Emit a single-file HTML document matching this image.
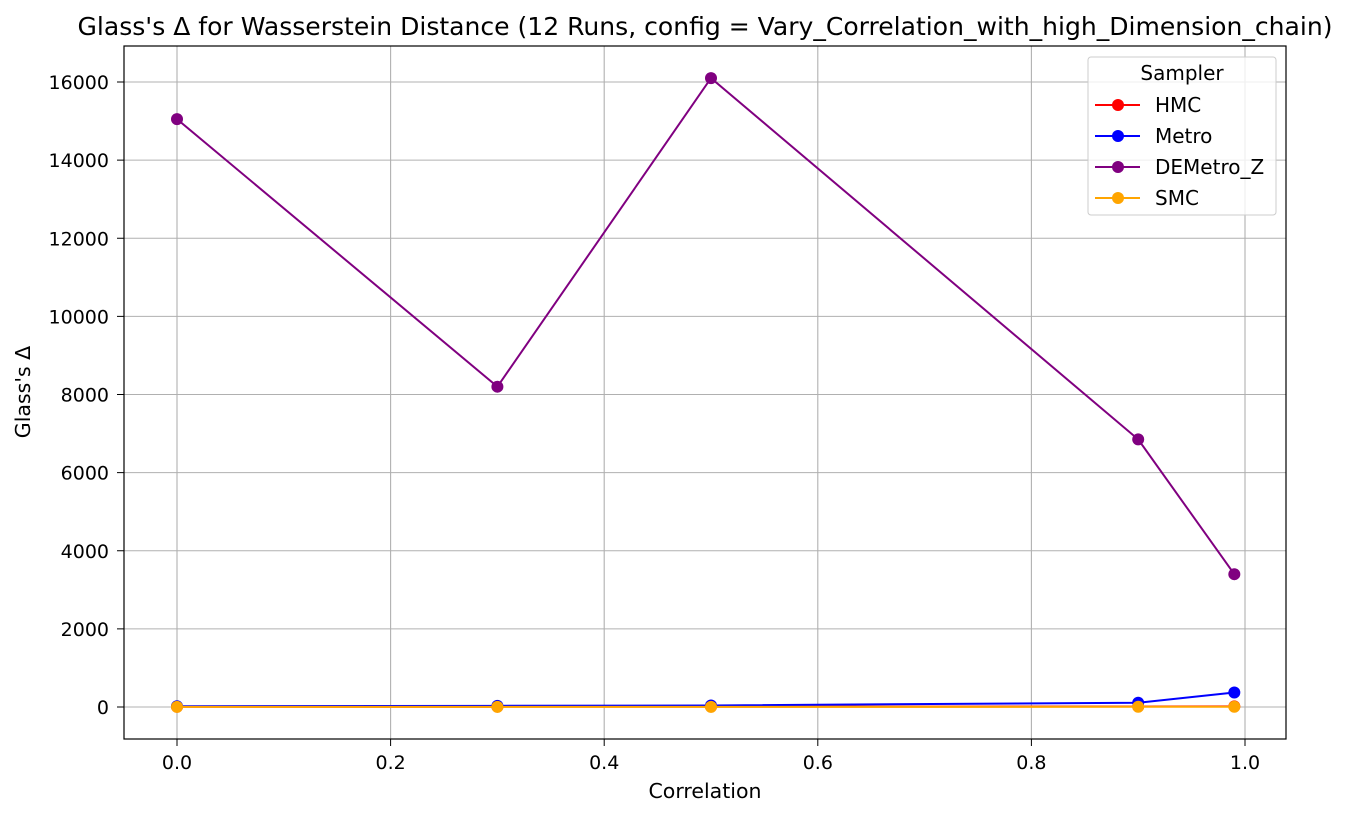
<!DOCTYPE html>
<html><head><meta charset="utf-8"><style>
body{margin:0;background:#fff;font-family:"Liberation Sans","DejaVu Sans",sans-serif;}
</style></head><body>
<svg width="1348" height="817" xmlns="http://www.w3.org/2000/svg" font-family="DejaVu Sans, Liberation Sans, sans-serif">
<g id="grid"></g>
<g id="axes"></g>
<g id="series"></g>
<rect x="124" y="46" width="1162" height="693" fill="none" stroke="#000" stroke-width="1.2"/>
<text x="705" y="35" font-size="25" text-anchor="middle" textLength="1255" lengthAdjust="spacingAndGlyphs">Glass's Δ for Wasserstein Distance (12 Runs, config = Vary_Correlation_with_high_Dimension_chain)</text>
<text x="705" y="798" font-size="20.5" text-anchor="middle">Correlation</text>
<text x="30" y="392" font-size="20.5" text-anchor="middle" transform="rotate(-90 30 392)">Glass's Δ</text>
<g id="legend">
<rect x="1088" y="57" width="188" height="158" rx="3" fill="#fff" fill-opacity="0.8" stroke="#ccc"/>
<text x="1182" y="80" font-size="20" text-anchor="middle">Sampler</text>
</g>
</svg>
<script>
const categories=[0.0,0.3,0.5,0.9,0.99];
const hmcValues=[5,8,10,12,15];
const metroValues=[20,30,40,110,370];
const demetroValues=[15050,8200,16100,6850,3400];
const smcValues=[2,3,4,5,6];
const xTicks=[0.0,0.2,0.4,0.6,0.8,1.0];
const yTicks=[0,2000,4000,6000,8000,10000,12000,14000,16000];
const seriesNames=["HMC","Metro","DEMetro_Z","SMC"];
const NS="http://www.w3.org/2000/svg";
function X(v){return 177+v*1068;}
function Y(v){return 707-v*0.0390625;}
function mk(t,a,p){const e=document.createElementNS(NS,t);for(const k in a)e.setAttribute(k,a[k]);p.appendChild(e);return e;}
const grid=document.getElementById('grid'),axes=document.getElementById('axes'),ser=document.getElementById('series'),leg=document.getElementById('legend');
xTicks.forEach(t=>{
 const g=mk('line',{x1:X(t),x2:X(t),y1:46,y2:739,stroke:'#b0b0b0','stroke-width':1.1},grid);
 
 
 mk('line',{x1:X(t),x2:X(t),y1:739,y2:746,stroke:'#000'},axes);
 const l=mk('text',{x:X(t),y:769,'font-size':19,'text-anchor':'middle'},axes);
 l.textContent=t.toFixed(1);
 
 
});
yTicks.forEach(t=>{
 const g=mk('line',{x1:124,x2:1286,y1:Y(t),y2:Y(t),stroke:'#b0b0b0','stroke-width':1.1},grid);
 
 
 mk('line',{x1:117,x2:124,y1:Y(t),y2:Y(t),stroke:'#000'},axes);
 const l=mk('text',{x:109,y:Y(t)+7,'font-size':19,'text-anchor':'end'},axes);
 l.textContent=t;
 
 
});
const colors=["red","blue","purple","orange"];
const datas=[hmcValues,metroValues,demetroValues,smcValues];
datas.forEach((d,i)=>{
 const g=mk('g',{},ser);
 
 
 mk('polyline',{points:d.map((v,j)=>X(categories[j])+','+Y(v)).join(' '),fill:'none',stroke:colors[i],'stroke-width':2},g);
 d.forEach((v,j)=>{
  const c=mk('circle',{cx:X(categories[j]),cy:Y(v),r:6,fill:colors[i]},g);
  
  
 });
 const y=105+i*31;
 const e=mk('g',{},leg);
 
 
 mk('line',{x1:1095,x2:1140,y1:y,y2:y,stroke:colors[i],'stroke-width':2},e);
 mk('circle',{cx:1118,cy:y,r:6,fill:colors[i]},e);
 const t=mk('text',{x:1155,y:y+7,'font-size':20},e);
 t.textContent=seriesNames[i];
});
</script>
</body></html>
